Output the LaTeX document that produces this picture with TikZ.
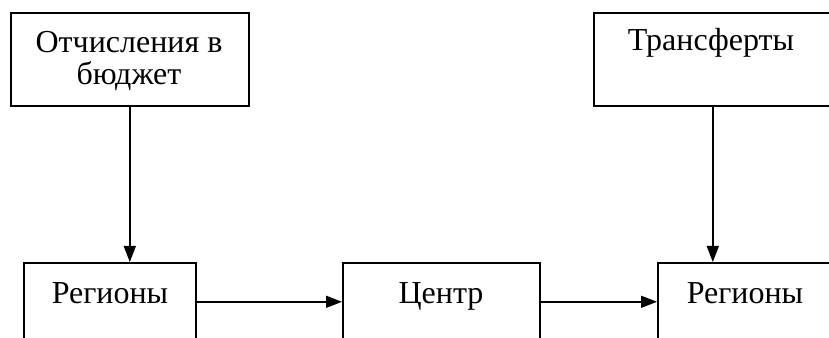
\documentclass[tikz,border=0pt]{standalone}
\usepackage{fontspec}
\setmainfont{Liberation Serif}
\usetikzlibrary{arrows.meta,calc}

\tikzset{
  box/.style={draw, line width=1.6pt, rectangle, inner sep=0pt, anchor=north west},
  lbl/.style={inner sep=0pt, anchor=base, font=\fontsize{32}{32}\selectfont},
  arr/.style={line width=1.6pt, -{Triangle[length=16pt,width=12pt]}},
}

\begin{document}
\begin{tikzpicture}[x=1pt,y=1pt]
  \useasboundingbox (0,0) rectangle (829,337);
  \fill[white] (0,0) rectangle (829,337);
  \clip (0,0) rectangle (829,337);

  % upper row
  \node[box, minimum width=238pt, minimum height=93pt] (otch) at (10,325) {};
  \node[box, minimum width=238pt, minimum height=93pt] (trans) at (593,325) {};
  \node[lbl] (otch1) at (129,284) {Отчисления в};
  \node[lbl] (otch2) at (129,252) {бюджет};
  \node[lbl] (trans1) at (711,286) {Трансферты};

  % lower row (runs past the lower edge)
  \node[box, minimum width=172pt, minimum height=78pt] (regA) at (23,75) {};
  \node[box, minimum width=197pt, minimum height=78pt] (centr) at (342,75) {};
  \node[box, minimum width=176pt, minimum height=78pt] (regB) at (657,75) {};
  \node[lbl] (regA1) at (110,34) {Регионы};
  \node[lbl] (centr1) at (441,34) {Центр};
  \node[lbl] (regB1) at (745,34) {Регионы};

  % connectors
  \draw[arr] (otch.south) -- (otch.south |- regA.north);
  \draw[arr] (trans.south) -- (trans.south |- regB.north);
  \draw[arr] (regA.east) -- (centr.west);
  \draw[arr] (centr.east) -- (regB.west);
\end{tikzpicture}
\end{document}
